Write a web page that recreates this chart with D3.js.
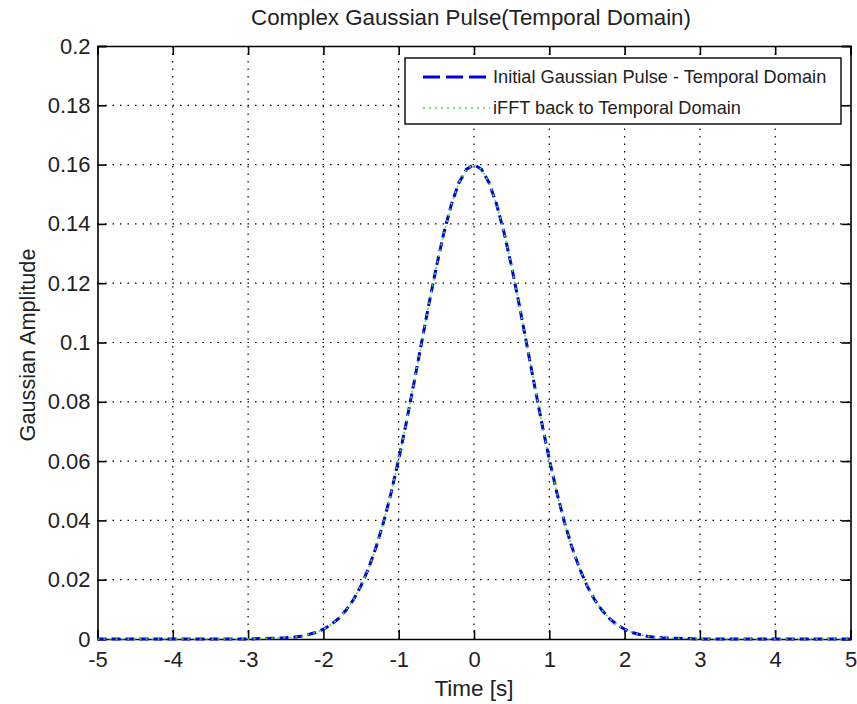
<!DOCTYPE html>
<html><head><meta charset="utf-8">
<script src="https://cdn.jsdelivr.net/npm/d3@7"></script>
<style>body{margin:0;background:#fff}svg{display:block}text{font-family:"Liberation Sans",Arial,sans-serif;fill:#222}</style>
</head><body><svg id="c" width="857" height="704"></svg>
<script>
const timeS = [-5,-4,-3,-2.5,-2.4,-2.3,-2.2,-2.1,-2.0,-1.9,-1.8,-1.7,-1.6,-1.5,-1.4,-1.3,-1.2,-1.1,-1.0,-0.9,-0.8,-0.7,-0.6,-0.5,-0.4,-0.3,-0.2,-0.1,0,
  0.1,0.2,0.3,0.4,0.5,0.6,0.7,0.8,0.9,1.0,1.1,1.2,1.3,1.4,1.5,1.6,1.7,1.8,1.9,2.0,2.1,2.2,2.3,2.4,2.5,3,4,5];
const initialPulse = [0,0,0,0.0004,0.0006,0.0009,0.0015,0.0022,0.0033,0.0048,0.0069,0.0097,0.0133,0.0180,0.0239,0.0310,0.0395,0.0494,0.0606,0.0729,0.0860,0.0994,0.1128,0.1255,0.1370,0.1466,0.1539,0.1584,0.1600,
  0.1584,0.1539,0.1466,0.1370,0.1255,0.1128,0.0994,0.0860,0.0729,0.0606,0.0494,0.0395,0.0310,0.0239,0.0180,0.0133,0.0097,0.0069,0.0048,0.0033,0.0022,0.0015,0.0009,0.0006,0.0004,0,0,0];
const ifftPulse = [0,0,0,0.0004,0.0006,0.0009,0.0015,0.0022,0.0033,0.0048,0.0069,0.0097,0.0133,0.0180,0.0239,0.0310,0.0395,0.0494,0.0606,0.0729,0.0860,0.0994,0.1128,0.1255,0.1370,0.1466,0.1539,0.1584,0.1600,
  0.1584,0.1539,0.1466,0.1370,0.1255,0.1128,0.0994,0.0860,0.0729,0.0606,0.0494,0.0395,0.0310,0.0239,0.0180,0.0133,0.0097,0.0069,0.0048,0.0033,0.0022,0.0015,0.0009,0.0006,0.0004,0,0,0];
const xTicks = [-5,-4,-3,-2,-1,0,1,2,3,4,5];
const yTicks = [0,0.02,0.04,0.06,0.08,0.1,0.12,0.14,0.16,0.18,0.2];
const legendLabels = ["Initial Gaussian Pulse - Temporal Domain","iFFT back to Temporal Domain"];
const titleText = "Complex Gaussian Pulse(Temporal Domain)";
const xLabel = "Time [s]", yLabel = "Gaussian Amplitude";

const svg = d3.select("#c");
svg.append("rect").attr("width",857).attr("height",704).attr("fill","#fff");
const L=97.5,R=850.5,T=46,B=639;
const x = d3.scaleLinear().domain([-5,5]).range([L,R]);
const y = d3.scaleLinear().domain([0,0.2]).range([B,T]);

// grid
const g = svg.append("g");
g.selectAll(".vx").data(xTicks.slice(1,-1)).join("line")
  .attr("x1",d=>x(d)).attr("x2",d=>x(d)).attr("y1",T).attr("y2",B)
  .attr("stroke","#000").attr("stroke-width",1.2).attr("stroke-dasharray","1.5,6");
g.selectAll(".hy").data(yTicks.slice(1,-1)).join("line")
  .attr("y1",d=>y(d)).attr("y2",d=>y(d)).attr("x1",L).attr("x2",R)
  .attr("stroke","#000").attr("stroke-width",1.2).attr("stroke-dasharray","1.5,6");

// axes
const fmtY = d=>d===0?"0":String(+d.toFixed(2));
const axB = svg.append("g").attr("transform",`translate(0,${B})`)
  .call(d3.axisBottom(x).tickValues(xTicks).tickSize(-9).tickPadding(8).tickFormat(d=>String(d)));
const axT = svg.append("g").attr("transform",`translate(0,${T})`)
  .call(d3.axisTop(x).tickValues(xTicks).tickSize(-9).tickFormat(""));
const axL = svg.append("g").attr("transform",`translate(${L},0)`)
  .call(d3.axisLeft(y).tickValues(yTicks).tickSize(-9).tickPadding(7).tickFormat(fmtY));
const axR = svg.append("g").attr("transform",`translate(${R},0)`)
  .call(d3.axisRight(y).tickValues(yTicks).tickSize(-9).tickFormat(""));
[axB,axT,axL,axR].forEach(a=>{
  a.selectAll("path").attr("stroke","#000").attr("stroke-width",1.6);
  a.selectAll("line").attr("stroke","#000").attr("stroke-width",1.6);
  a.selectAll("text").style("font-size","22px").attr("fill","#2a2a2a");
});
axB.selectAll("text").attr("dy","0.9em");

// lines
const line = d3.line().x((d,i)=>x(timeS[i])).y(d=>y(d));
svg.append("path").datum(initialPulse).attr("d",line).attr("fill","none")
  .attr("stroke","#0000e0").attr("stroke-width",3).attr("stroke-dasharray","9,5");
svg.append("path").datum(ifftPulse).attr("d",line).attr("fill","none")
  .attr("stroke","#44e044").attr("stroke-width",1.6).attr("stroke-dasharray","2,4");

// legend
const lg = svg.append("g");
lg.append("rect").attr("x",405).attr("y",58).attr("width",436).attr("height",66)
  .attr("fill","#fff").attr("stroke","#000").attr("stroke-width",1.4);
const rows=[77,108];
lg.append("line").attr("x1",423).attr("x2",490).attr("y1",rows[0]).attr("y2",rows[0])
  .attr("stroke","#0000e0").attr("stroke-width",3).attr("stroke-dasharray","17,6");
lg.append("line").attr("x1",423).attr("x2",490).attr("y1",rows[1]).attr("y2",rows[1])
  .attr("stroke","#44e044").attr("stroke-width",1.6).attr("stroke-dasharray","2,4");
legendLabels.forEach((t,i)=>lg.append("text").attr("x",493).attr("y",rows[i]).attr("dy","0.35em")
  .style("font-size","18.2px").text(t));

// titles
svg.append("text").attr("x",471).attr("y",17).attr("dy","0.35em").attr("text-anchor","middle")
  .style("font-size","22.3px").text(titleText);
svg.append("text").attr("x",474).attr("y",688).attr("dy","0.35em").attr("text-anchor","middle")
  .style("font-size","22.5px").text(xLabel);
svg.append("text").attr("transform","translate(27,345) rotate(-90)").attr("dy","0.35em").attr("text-anchor","middle")
  .style("font-size","21.7px").text(yLabel);
</script></body></html>
